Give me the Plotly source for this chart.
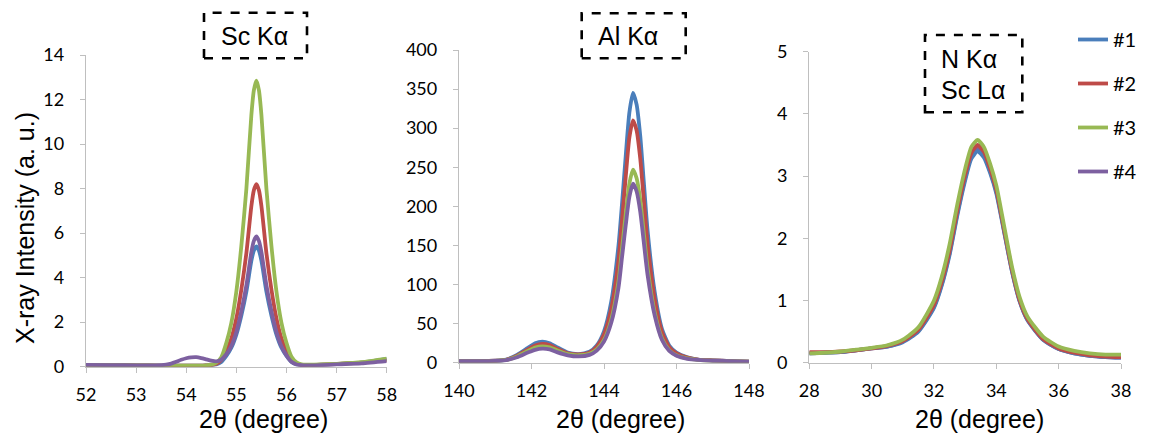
import plotly.graph_objects as go

# ---------------- data ----------------
series_names = ["#1", "#2", "#3", "#4"]
series_colors = ["#4A7EBB", "#BE4B48", "#98B954", "#7D60A0"]

# Panel 1: Sc K-alpha
x_sc = [52, 52.5, 53, 53.5, 53.6, 53.7, 53.8, 53.9, 54.0, 54.1, 54.2, 54.3, 54.4, 54.5,
        54.6, 54.7, 54.8, 54.9, 55.0, 55.1, 55.2, 55.3, 55.35, 55.4, 55.45, 55.5, 55.6, 55.7, 55.8,
        55.9, 56.0, 56.1, 56.2, 56.3, 56.4, 56.7, 57, 57.5, 58]
sc_1 = [0.08, 0.07, 0.06, 0.05, 0.05, 0.05, 0.05, 0.05, 0.05, 0.05, 0.05, 0.05, 0.06, 0.07,
        0.10, 0.21, 0.48, 0.85, 1.44, 2.30, 3.37, 4.76, 5.22, 5.40, 5.22, 4.76, 3.37, 2.30, 1.44,
        0.85, 0.48, 0.21, 0.10, 0.07, 0.06, 0.09, 0.12, 0.18, 0.35]
sc_2 = [0.08, 0.07, 0.06, 0.05, 0.05, 0.05, 0.05, 0.05, 0.05, 0.05, 0.05, 0.05, 0.06, 0.07,
        0.13, 0.30, 0.70, 1.27, 2.17, 3.47, 5.10, 7.22, 7.93, 8.20, 7.93, 7.22, 5.10, 3.47, 2.17,
        1.27, 0.70, 0.30, 0.13, 0.08, 0.07, 0.09, 0.12, 0.18, 0.30]
sc_3 = [0.08, 0.07, 0.06, 0.05, 0.05, 0.05, 0.05, 0.05, 0.05, 0.05, 0.05, 0.05, 0.06, 0.09,
        0.18, 0.43, 1.07, 1.97, 3.38, 5.43, 7.99, 11.31, 12.42, 12.85, 12.42, 11.31, 7.99, 5.43, 3.38,
        1.97, 1.07, 0.45, 0.20, 0.11, 0.09, 0.10, 0.13, 0.20, 0.36]
sc_4 = [0.08, 0.07, 0.06, 0.07, 0.09, 0.14, 0.22, 0.31, 0.38, 0.42, 0.43, 0.39, 0.33, 0.27,
        0.24, 0.32, 0.56, 0.93, 1.56, 2.49, 3.65, 5.15, 5.65, 5.85, 5.65, 5.15, 3.65, 2.49, 1.56,
        0.92, 0.51, 0.22, 0.10, 0.07, 0.06, 0.07, 0.10, 0.15, 0.25]

# Panel 2: Al K-alpha
x_al = [140, 140.5, 141, 141.3, 141.6, 141.9, 142.1, 142.3, 142.5, 142.7, 143.0, 143.3,
        143.6, 143.8, 144.0, 144.2, 144.4, 144.5, 144.6, 144.7, 144.8, 144.9, 145.0,
        145.1, 145.2, 145.4, 145.6, 145.8, 146.0, 146.3, 146.6, 147, 147.5, 148]
al_1 = [2, 2, 2.5, 4, 10, 19, 25, 27, 25, 20, 13, 11,
        14, 22, 40, 78, 150, 205, 265, 320, 345, 330, 290,
        230, 170, 90, 43, 22, 13, 7, 4, 3, 2, 1.5]
al_2 = [2, 2, 2.5, 3.8, 9, 17, 22, 24, 22.5, 18, 12, 10.5,
        13, 20.5, 36, 69, 131, 184, 238, 288, 310, 297, 261,
        207, 153, 81, 39, 20, 12, 6.5, 4, 3, 2, 1.5]
al_3 = [2, 2, 2.4, 3.5, 8, 15, 19.5, 21, 19.5, 16, 11, 9.5,
        11.5, 17, 29, 55, 104, 147, 190, 229, 247, 236, 208,
        165, 122, 64, 31, 16, 9.5, 5.5, 3.5, 2.5, 2, 1.5]
al_4 = [2, 2, 2.3, 3.3, 7, 13, 16.5, 18, 17, 13.5, 9.5, 8,
        10, 15.5, 27, 51, 96, 136, 176, 212, 229, 219, 193,
        153, 113, 60, 29, 15, 9, 5, 3.5, 2.5, 2, 1.5]

# Panel 3: N K-alpha / Sc L-alpha
x_n = [28, 28.5, 29, 29.5, 30, 30.5, 31, 31.5, 32, 32.25, 32.5, 32.75, 33, 33.2,
       33.4, 33.6, 33.8, 34, 34.25, 34.5, 34.75, 35, 35.5, 36, 36.5, 37, 37.5, 38]
n_1 = [0.15, 0.16, 0.17, 0.20, 0.23, 0.26, 0.33, 0.50, 0.88, 1.24, 1.73, 2.37, 2.93, 3.28,
       3.40, 3.30, 3.05, 2.72, 2.10, 1.47, 0.98, 0.68, 0.37, 0.22, 0.15, 0.11, 0.09, 0.08]
n_2 = [0.17, 0.17, 0.18, 0.20, 0.23, 0.27, 0.35, 0.53, 0.93, 1.30, 1.80, 2.45, 3.02, 3.37,
       3.50, 3.39, 3.12, 2.78, 2.14, 1.50, 1.00, 0.70, 0.38, 0.23, 0.16, 0.12, 0.10, 0.09]
n_3 = [0.15, 0.16, 0.18, 0.21, 0.24, 0.28, 0.37, 0.57, 1.00, 1.38, 1.90, 2.55, 3.12, 3.47,
       3.58, 3.47, 3.20, 2.85, 2.20, 1.55, 1.05, 0.74, 0.42, 0.26, 0.19, 0.15, 0.13, 0.13]
n_4 = [0.15, 0.16, 0.17, 0.20, 0.23, 0.26, 0.34, 0.51, 0.90, 1.26, 1.76, 2.40, 2.97, 3.32,
       3.44, 3.34, 3.08, 2.75, 2.12, 1.48, 0.99, 0.69, 0.37, 0.22, 0.15, 0.11, 0.09, 0.08]

panels = [
    {"x": x_sc, "ys": [sc_1, sc_2, sc_3, sc_4], "order": [0, 1, 2, 3], "xa": "x", "ya": "y"},
    {"x": x_al, "ys": [al_1, al_2, al_3, al_4], "order": [0, 1, 2, 3], "xa": "x2", "ya": "y2"},
    {"x": x_n, "ys": [n_1, n_2, n_3, n_4], "order": [3, 0, 1, 2], "xa": "x3", "ya": "y3"},
]

fig = go.Figure()
for pi, p in enumerate(panels):
    for si in p["order"]:
        fig.add_trace(go.Scatter(
            x=p["x"], y=p["ys"][si], mode="lines",
            name=series_names[si],
            line=dict(color=series_colors[si], width=3.8, shape="spline", smoothing=0.6),
            xaxis=p["xa"], yaxis=p["ya"],
            showlegend=(pi == 0), legendgroup=series_names[si], legendrank=si + 1,
            hoverinfo="x+y+name",
        ))

# The page body has an 8 px margin, so the figure starts at screen (8, 8).
OFF = 8
W, H = 1151 - OFF, 436 - OFF
def px(v):
    return (v - OFF) / W
def py(v):
    return 1 - (v - OFF) / H

axis_common = dict(
    showline=True, linecolor="#BFBFBF", linewidth=1.3,
    ticks="outside", ticklen=5, tickcolor="#BFBFBF", tickwidth=1.3,
    showgrid=False, zeroline=False, automargin=False,
    tickfont=dict(family="Lato", size=18, color="#000000"),
)

fig.update_layout(
    width=W, height=H,
    margin=dict(l=0, r=0, t=0, b=0, autoexpand=False),
    paper_bgcolor="white", plot_bgcolor="white",
    xaxis=dict(domain=[px(86), px(386.7)], range=[52, 58], dtick=1, anchor="y",
               ticklabelstandoff=7, **axis_common),
    yaxis=dict(domain=[py(366.7), py(55)], range=[0, 14], dtick=2, anchor="x",
               ticklabelstandoff=12, **axis_common),
    xaxis2=dict(domain=[px(459), px(749)], range=[140, 148], dtick=2, anchor="y2",
                ticklabelstandoff=7, **axis_common),
    yaxis2=dict(domain=[py(362.7), py(50)], range=[0, 400], dtick=50, anchor="x2",
                ticklabelstandoff=12, **axis_common),
    xaxis3=dict(domain=[px(809.3), px(1121)], range=[28, 38], dtick=2, anchor="y3",
                ticklabelstandoff=7, **axis_common),
    yaxis3=dict(domain=[py(362.7), py(51.7)], range=[0, 5], dtick=1, anchor="x3",
                ticklabelstandoff=12, **axis_common),
    legend=dict(x=px(1073), y=py(20), xanchor="left", yanchor="top",
                font=dict(family="Lato", size=20, color="#000000"),
                tracegroupgap=15, itemwidth=30, bgcolor="rgba(0,0,0,0)",
                traceorder="grouped"),
    showlegend=True,
)

title_font = dict(family="Liberation Sans, Arial", size=25, color="#000000")

annotations = [
    dict(text="X-ray Intensity (a. u.)", x=px(25), y=py(228), textangle=-90,
         xanchor="center", yanchor="middle", font=title_font),
    dict(text="2θ (degree)", x=px(263), y=py(419), xanchor="center", yanchor="middle", font=title_font),
    dict(text="2θ (degree)", x=px(620), y=py(419), xanchor="center", yanchor="middle", font=title_font),
    dict(text="2θ (degree)", x=px(979), y=py(419), xanchor="center", yanchor="middle", font=title_font),
    dict(text="Sc Kα", x=px(254), y=py(36), xanchor="center", yanchor="middle", font=title_font),
    dict(text="Al Kα", x=px(628), y=py(36), xanchor="center", yanchor="middle", font=title_font),
    dict(text="N Kα", x=px(939), y=py(59), xanchor="left", yanchor="middle", font=title_font),
    dict(text="Sc Lα", x=px(939), y=py(90), xanchor="left", yanchor="middle", font=title_font),
]
for a in annotations:
    a.update(xref="paper", yref="paper", showarrow=False)
fig.update_layout(annotations=annotations)

boxes = [(204, 12.7, 307, 58.3), (581.7, 13.3, 685.7, 58.3), (925, 35, 1022.3, 112.3)]
shapes = []
for (x0, y0, x1, y1) in boxes:
    shapes.append(dict(type="rect", xref="paper", yref="paper",
                       x0=px(x0), x1=px(x1), y0=py(y1), y1=py(y0),
                       line=dict(color="#000000", width=2.6, dash="dash"),
                       fillcolor="rgba(0,0,0,0)"))
fig.update_layout(shapes=shapes)

fig.write_html("out.html")
